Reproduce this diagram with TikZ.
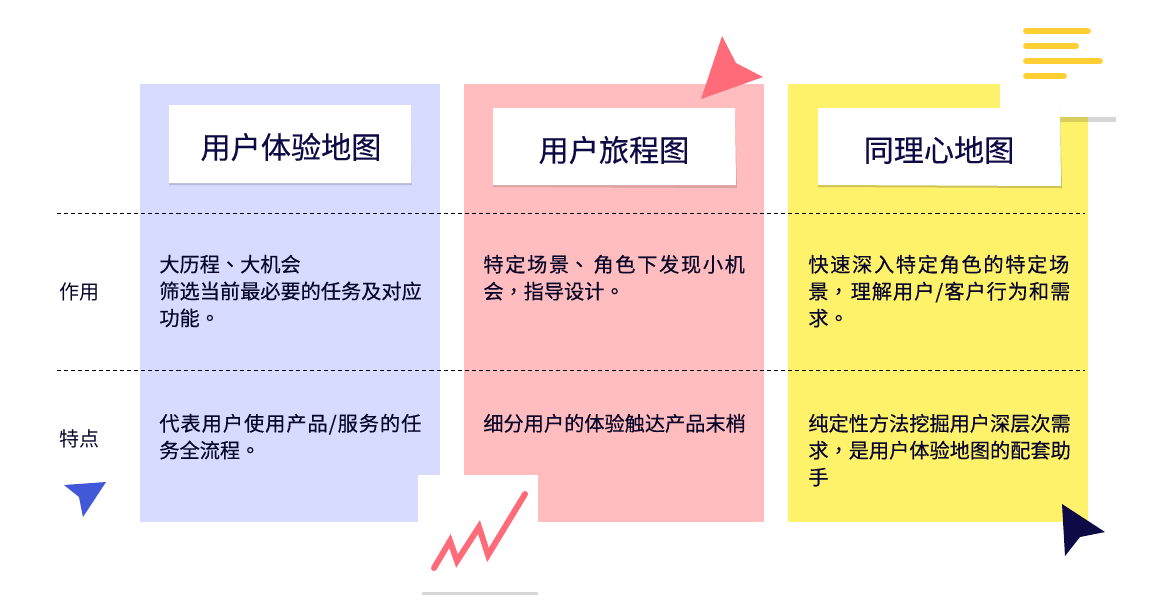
\documentclass[tikz,border=0pt]{standalone}
\usepackage{fontspec}
\setmainfont{Noto Sans CJK SC}
\newfontfamily\medfont{Noto Sans CJK SC}[FakeBold=0.3]
\newfontfamily\puncfont{Noto Sans CJK TC}[FakeBold=0.3]
\newcommand{\punc}[1]{{\puncfont #1}}
\newcommand{\wideline}[2][8.4]{{\addfontfeature{LetterSpace=#1}#2}}
\usetikzlibrary{positioning}
\definecolor{colblue}{HTML}{D6DBFF}
\definecolor{colpink}{HTML}{FFBDBF}
\definecolor{colyellow}{HTML}{FFF26B}
\definecolor{navy}{HTML}{0D0A45}
\definecolor{coral}{HTML}{FF6B78}
\definecolor{royal}{HTML}{4158D8}
\definecolor{amber}{HTML}{FFCF33}
\tikzset{
  titletext/.style={text=navy,font=\medfont\fontsize{17.15}{20}\selectfont,inner sep=0pt},
  bodytext/.style={anchor=north west,align=left,text=navy!60!black,inner sep=0pt,font=\medfont\fontsize{11.49}{15.3}\selectfont},
  sidetext/.style={anchor=west,text=navy!60!black,inner sep=0pt,font=\fontsize{11.4}{15.3}\selectfont},
  rowline/.style={black,line width=0.5pt,dash pattern=on 2.3pt off 1.7pt},
  amberline/.style={amber,line width=3.3pt,line cap=round}
}
\begin{document}
\begin{tikzpicture}[x=0.02cm,y=-0.02cm]
\useasboundingbox (0,0) rectangle (1150,600);
% columns
\fill[colblue] (140,84) rectangle (440,522);
\fill[colpink] (464,84) rectangle (764,522);
\fill[colyellow] (788,84) rectangle (1088,522);
% cut-outs
\fill[white] (1000,80) rectangle (1120,117);
\fill[white] (418,475) rectangle (538,600);
\fill[black!16] (1088,117) rectangle (1116,122);
\fill[black!16] (422,592) rectangle (538,595);
\fill[colyellow!85!black] (1060,117) rectangle (1088,122);
% title boxes
\fill[colblue!85!black] (169,107) -- (411,107) -- (412,185) -- (169,185) -- cycle;
\fill[white] (169,105) -- (411,105) -- (411.5,183) -- (169,183) -- cycle;
\fill[colpink!85!black] (493,110) -- (735,110) -- (737,188) -- (493,187) -- cycle;
\fill[white] (493,108) -- (735,108) -- (736,185) -- (493,185) -- cycle;
\fill[colyellow!80!black] (818,110) -- (1060,110) -- (1062,188) -- (818,187) -- cycle;
\fill[white] (818,108) -- (1060,108) -- (1061,186) -- (818,185) -- cycle;
\node[titletext] (title1) at (291,147) {用户体验地图};
\node[titletext] (title2) at (614,150) {用户旅程图};
\node[titletext] (title3) at (939,150) {同理心地图};
% rows
\coordinate (row1a) at (57,213);
\coordinate (row1b) at (1085,213);
\coordinate (row2a) at (57,370);
\coordinate (row2b) at (1085,370);
\draw[rowline] (row1a) -- (row1b);
\draw[rowline] (row2a) -- (row2b);
\node[sidetext] (side1) at (59,292) {作用};
\node[sidetext] (side2) at (59,439) {特点};
\node[bodytext] (use1) at (159,254.5) {大历程\punc{、}大机会\\筛选当前最必要的任务及对应\\功能\punc{。}};
\node[bodytext] (use2) at (483,254.5) {\wideline{特定场景\punc{、}\kern2.3pt 角色下发现小机}\\会\punc{，}指导设计\punc{。}};
\node[bodytext] (use3) at (808,254.5) {\wideline{快速深入特定角色的特定场}\\\wideline[4.9]{景\punc{，}\kern1.1pt 理解用户/客户行为和需}\\求\punc{。}};
\node[bodytext] (feat1) at (159,413.5) {\wideline[4.9]{代表用户使用产品/服务的任}\\务全流程\punc{。}};
\node[bodytext] (feat2) at (483,413.5) {细分用户的体验触达产品末梢};
\node[bodytext] (feat3) at (808,413.5) {纯定性方法挖掘用户深层次需\\求\punc{，}是用户体验地图的配套助\\手};
% marks
\fill[coral] (722,36) -- (736,63) -- (763,77) -- (701,99) -- cycle;
\fill[royal] (64,485) -- (106,482) -- (83,517) -- (79,497) -- cycle;
\fill[navy] (1062,504) -- (1105,532) -- (1080,537) -- (1065,556) -- cycle;
\draw[coral,line width=3.4pt,line cap=round] (434,568) -- (450,541) -- (457,561) -- (479,527) -- (488,555) -- (525,494);
\draw[amberline] (1026,31) -- (1088,31);
\draw[amberline] (1026,46) -- (1076,46);
\draw[amberline] (1026,61) -- (1100,61);
\draw[amberline] (1026,76) -- (1064,76);
\end{tikzpicture}
\end{document}
